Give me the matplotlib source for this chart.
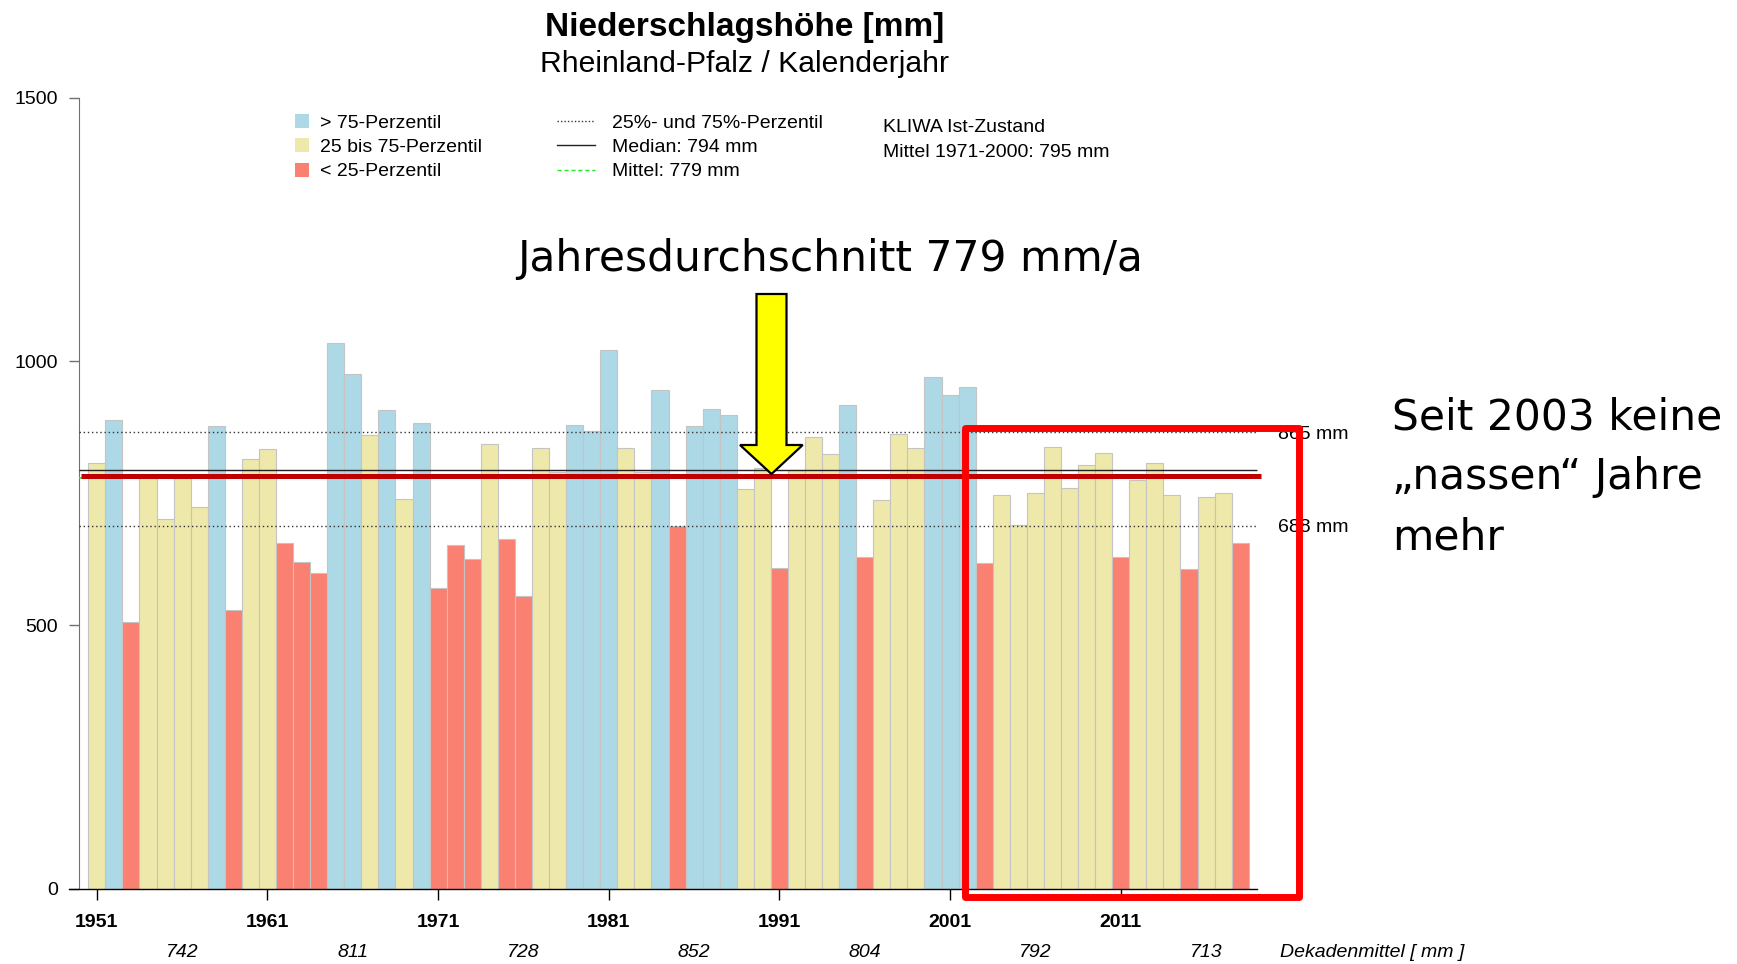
import matplotlib
matplotlib.use("Agg")
import matplotlib.pyplot as plt
from matplotlib.transforms import Affine2D, blended_transform_factory
from matplotlib.patches import Rectangle, Polygon
from matplotlib.lines import Line2D

plt.rcParams['font.family'] = ['Liberation Sans', 'DejaVu Sans']

# ---------------- data ----------------
years = list(range(1951, 2019))
precip = [808, 889, 506, 783, 701, 784, 724, 877, 529, 814,
          834, 656, 620, 599, 1035, 976, 860, 907, 739, 883,
          571, 652, 626, 844, 664, 555, 836, 791, 879, 868,
          1022, 836, 791, 946, 687, 877, 909, 899, 757, 797,
          609, 794, 856, 824, 918, 628, 737, 863, 836, 970,
          937, 951, 618, 747, 690, 751, 838, 759, 804, 827,
          628, 775, 807, 747, 606, 743, 751, 656]
p25 = 688
p75 = 865
median = 794
mean = 779
kliwa_mean = 795
decade_years = [1956, 1966, 1976, 1986, 1996, 2006, 2016]
decade_means = [742, 811, 728, 852, 804, 792, 713]
xtick_years = [1951, 1961, 1971, 1981, 1991, 2001, 2011]
ytick_vals = [0, 500, 1000, 1500]
legend_bar_labels = ["> 75-Perzentil", "25 bis 75-Perzentil", "< 25-Perzentil"]

C_HIGH = "#add8e6"
C_MID = "#eee8aa"
C_LOW = "#fa8072"

# ---------------- figure ----------------
W, H = 1737, 964
fig = plt.figure(figsize=(W / 100, H / 100), dpi=100)
PX = Affine2D().scale(1 / W, -1 / H).translate(0, 1) + fig.transFigure

y0_px, y1500_px = 888.7, 97.6
x1951_px, step_px = 96.83, 17.065
ax_left_px, ax_right_px = 79, 1300
ax = fig.add_axes([ax_left_px / W, (H - y0_px) / H,
                   (ax_right_px - ax_left_px) / W, (y0_px - y1500_px) / H])
xlo = 1951 - (x1951_px - ax_left_px) / step_px
xhi = 1951 + (ax_right_px - x1951_px) / step_px
ax.set_xlim(xlo, xhi)
ax.set_ylim(0, 1500)
ax.patch.set_alpha(0)

colors = [C_HIGH if v > p75 else (C_LOW if v < p25 else C_MID) for v in precip]
ax.bar(years, precip, width=1.0, color=colors, edgecolor="#c4c4c4",
       linewidth=0.8, zorder=2)

xend = 1951 + (1257 - x1951_px) / step_px
ax.hlines([p75, p25], xlo, xend, colors="#333333", linestyles=(0, (1, 2)),
          linewidth=1.0, zorder=3)
ax.hlines(median, xlo, xend, colors="#222222", linewidth=1.0, zorder=3)
ax.hlines(mean, xlo, xend, colors="#22ee22", linestyles=(0, (4, 3)),
          linewidth=1.2, zorder=3)

bt = blended_transform_factory(ax.transData, PX)
for v in (p75, p25):
    ax.text(1951 + (1277.7 - x1951_px) / step_px, v, f"{v} mm", fontsize=14,
            ha="left", va="center_baseline", zorder=1)

# axes styling
for s in ("top", "right", "bottom"):
    ax.spines[s].set_visible(False)
ax.spines["left"].set_bounds(0, 1500)
ax.spines["left"].set_color("#707070")
ax.set_yticks(ytick_vals)
ax.set_yticklabels([str(v) for v in ytick_vals])
ax.tick_params(axis="y", length=7.2, width=1, color="#707070", pad=8,
               labelsize=14)
ax.set_xticks(xtick_years)
ax.set_xticklabels([str(y) for y in xtick_years], fontweight="bold")
ax.tick_params(axis="x", length=8, width=1, color="black", pad=10.5,
               labelsize=14)
xa0 = 1951 + (69 - x1951_px) / step_px
ax.plot([xa0, xend], [0, 0], color="black", lw=1.0, clip_on=False, zorder=4)

# decade means
for dy, dm in zip(decade_years, decade_means):
    ax.text(dy, 950.5, str(dm), transform=bt, fontsize=14, style="italic",
            ha="center", va="center_baseline")
fig.text(1279.5, 950.5, "Dekadenmittel [ mm ]", transform=PX, fontsize=14,
         style="italic", ha="left", va="center_baseline")

# title
fig.text(744.6, 27.5, "Niederschlagshöhe [mm]", transform=PX, fontsize=24,
         fontweight="bold", ha="center", va="center")
fig.text(745, 63.5, "Rheinland-Pfalz / Kalenderjahr", transform=PX,
         fontsize=21.7, ha="center", va="center")

# legend
rows = [120.8, 145.1, 169.5]
for yy, c, lab in zip(rows, [C_HIGH, C_MID, C_LOW], legend_bar_labels):
    fig.patches.append(Rectangle((295, yy - 7), 14, 14, transform=PX,
                                 facecolor=c, edgecolor="none"))
    fig.text(320, yy + 2.5, lab, transform=PX, fontsize=14, ha="left",
             va="center")
line_styles = [dict(color="#333333", ls=(0, (1, 1.5)), lw=1.0),
               dict(color="#222222", ls="-", lw=1.0),
               dict(color="#22ee22", ls=(0, (3, 2)), lw=1.0)]
line_labels = ["25%- und 75%-Perzentil", f"Median: {median} mm",
               f"Mittel: {mean} mm"]
for yy, st, lab in zip(rows, line_styles, line_labels):
    fig.lines.append(Line2D([557, 595], [yy, yy], transform=PX, **st))
    fig.text(611.5, yy + 2.5, lab, transform=PX, fontsize=14, ha="left",
             va="center")
fig.text(883, 127.7, "KLIWA Ist-Zustand", transform=PX, fontsize=14,
         ha="left", va="center")
fig.text(883, 152.1, f"Mittel 1971-2000: {kliwa_mean} mm", transform=PX,
         fontsize=14, ha="left", va="center")

# annotations
fig.lines.append(Line2D([81, 1261], [475.8, 475.8], transform=PX,
                        color="#c00000", lw=3.6, solid_capstyle="butt",
                        zorder=5))
fig.patches.append(Rectangle((965, 428), 1298.5 - 965, 897 - 428,
                             transform=PX, facecolor="none",
                             edgecolor="#ff0000", lw=5, joinstyle="round",
                             zorder=6))
arrow = [(756.5, 294), (786.5, 294), (786.5, 445), (802.7, 445),
         (771.5, 474), (740, 445), (756.5, 445)]
fig.patches.append(Polygon(arrow, closed=True, transform=PX,
                           facecolor="#ffff00", edgecolor="black", lw=1.6,
                           joinstyle="miter", zorder=7))
fig.text(830, 271, "Jahresdurchschnitt 779 mm/a", transform=PX,
         fontsize=30.5, family="DejaVu Sans", ha="center", va="baseline")
for yy, line in zip([429, 489, 549],
                    ["Seit 2003 keine", "\u201enassen\u201c Jahre", "mehr"]):
    fig.text(1392.5, yy, line, transform=PX, fontsize=30.5,
             family="DejaVu Sans", ha="left", va="baseline")

fig.savefig("out.png", dpi=100)
